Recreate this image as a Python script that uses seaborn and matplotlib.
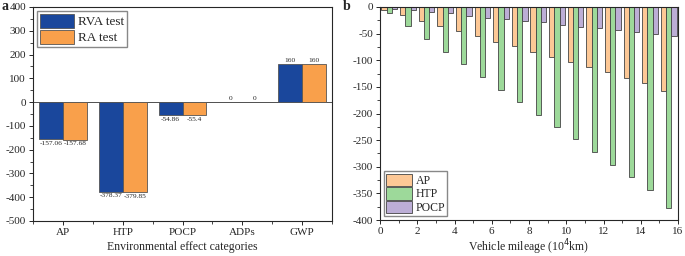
import numpy as np
import pandas as pd
import matplotlib
matplotlib.use("Agg")
import matplotlib.pyplot as plt
from matplotlib.ticker import MultipleLocator, AutoMinorLocator
import seaborn as sns

# panel a data
categories = ["AP", "HTP", "POCP", "ADPs", "GWP"]
rva_test = [-157.06, -378.37, -54.86, 0, 160]
ra_test = [-157.68, -379.85, -55.4, 0, 160]
rva_labels = ["-157.06", "-378.37", "-54.86", "0", "160"]
ra_labels = ["-157.68", "-379.85", "-55.4", "0", "160"]

# panel b data
mileage = [0.5, 1.5, 2.5, 3.5, 4.5, 5.5, 6.5, 7.5, 8.5, 9.5, 10.5, 11.5, 12.5, 13.5, 14.5, 15.5]
ap_vals = [-5, -15, -26, -35, -45, -55, -65, -74, -84, -93, -104, -113, -123, -133, -143, -157]
htp_vals = [-12, -36, -61, -84, -107, -131, -155, -178, -202, -225, -248, -272, -296, -320, -343, -378]
pocp_vals = [-3, -6, -9, -12, -16, -20, -23, -26, -29, -33, -37, -40, -44, -47, -50, -55]

sns.set_style("ticks")
plt.rcParams["font.family"] = ["Liberation Serif", "DejaVu Serif"]
plt.rcParams["axes.unicode_minus"] = False
plt.rcParams["xtick.direction"] = "out"
plt.rcParams["ytick.direction"] = "out"

fig = plt.figure(figsize=(6.85, 2.56), dpi=100)
ax1 = fig.add_axes([33 / 685, 35 / 256, 299 / 685, 214 / 256])
ax2 = fig.add_axes([380 / 685, 36 / 256, 298 / 685, 213 / 256])

# ---- panel a ----
df_a = pd.DataFrame({
    "cat": categories * 2,
    "val": rva_test + ra_test,
    "test": ["RVA test"] * 5 + ["RA test"] * 5,
})
sns.barplot(data=df_a, x="cat", y="val", hue="test", ax=ax1,
            palette=["#1a479c", "#f9a04b"], width=0.8,
            edgecolor="#555555", linewidth=0.6, saturation=1)
for cont, labs in zip(ax1.containers, [rva_labels, ra_labels]):
    ax1.bar_label(cont, labels=labs, fontsize=5.3, padding=1)
ax1.axhline(0, color="#333333", lw=0.6, zorder=0)
ax1.set_ylim(-500, 400)
ax1.set_xlim(-0.5, 4.5)
ax1.yaxis.set_major_locator(MultipleLocator(100))
ax1.yaxis.set_minor_locator(AutoMinorLocator(2))
ax1.set_xticks(np.arange(-0.5, 5, 1), minor=True)
ax1.set_xlabel("Environmental effect categories", fontsize=8.5, labelpad=3)
ax1.set_ylabel("")
ax1.tick_params(labelsize=8, length=3, width=0.7, pad=2)
ax1.tick_params(which="minor", length=2, width=0.6)
for s in ax1.spines.values():
    s.set_linewidth(0.8)
ax1.legend(loc="upper left", fontsize=9.5, handlelength=2.6, handleheight=1.3,
           borderpad=0.2, labelspacing=0.1, handletextpad=0.3,
           fancybox=False, edgecolor="#888888", framealpha=1,
           borderaxespad=0.3)
fig.text(5 / 685, 1 - 7 / 256, "a", fontsize=10, fontweight="bold",
         ha="center", va="center")

# ---- panel b ----
df_b = pd.DataFrame({
    "mileage": mileage * 3,
    "val": ap_vals + htp_vals + pocp_vals,
    "kind": ["AP"] * 16 + ["HTP"] * 16 + ["POCP"] * 16,
})
sns.barplot(data=df_b, x="mileage", y="val", hue="kind", ax=ax2,
            native_scale=True, palette=["#fdc896", "#9dd99a", "#bcaed6"],
            width=0.85, edgecolor="#444444", linewidth=0.6, saturation=1)
ax2.set_xlim(0, 16)
ax2.set_ylim(-400, 0)
ax2.xaxis.set_major_locator(MultipleLocator(2))
ax2.xaxis.set_minor_locator(AutoMinorLocator(2))
ax2.yaxis.set_major_locator(MultipleLocator(50))
ax2.yaxis.set_minor_locator(AutoMinorLocator(2))
ax2.set_xlabel("Vehicle mileage (10$^4$km)", fontsize=8.5, labelpad=1)
ax2.set_ylabel("")
ax2.tick_params(labelsize=8, length=3, width=0.7, pad=2)
ax2.tick_params(which="minor", length=2, width=0.6)
for s in ax2.spines.values():
    s.set_linewidth(0.8)
ax2.legend(loc="lower left", fontsize=8.5, handlelength=2.2, handleheight=1.2,
           borderpad=0.2, labelspacing=0.05, handletextpad=0.3,
           fancybox=False, edgecolor="#888888", framealpha=1,
           borderaxespad=0.3)
fig.text(347 / 685, 1 - 7 / 256, "b", fontsize=10, fontweight="bold",
         ha="center", va="center")

fig.savefig("out.png", dpi=100)
